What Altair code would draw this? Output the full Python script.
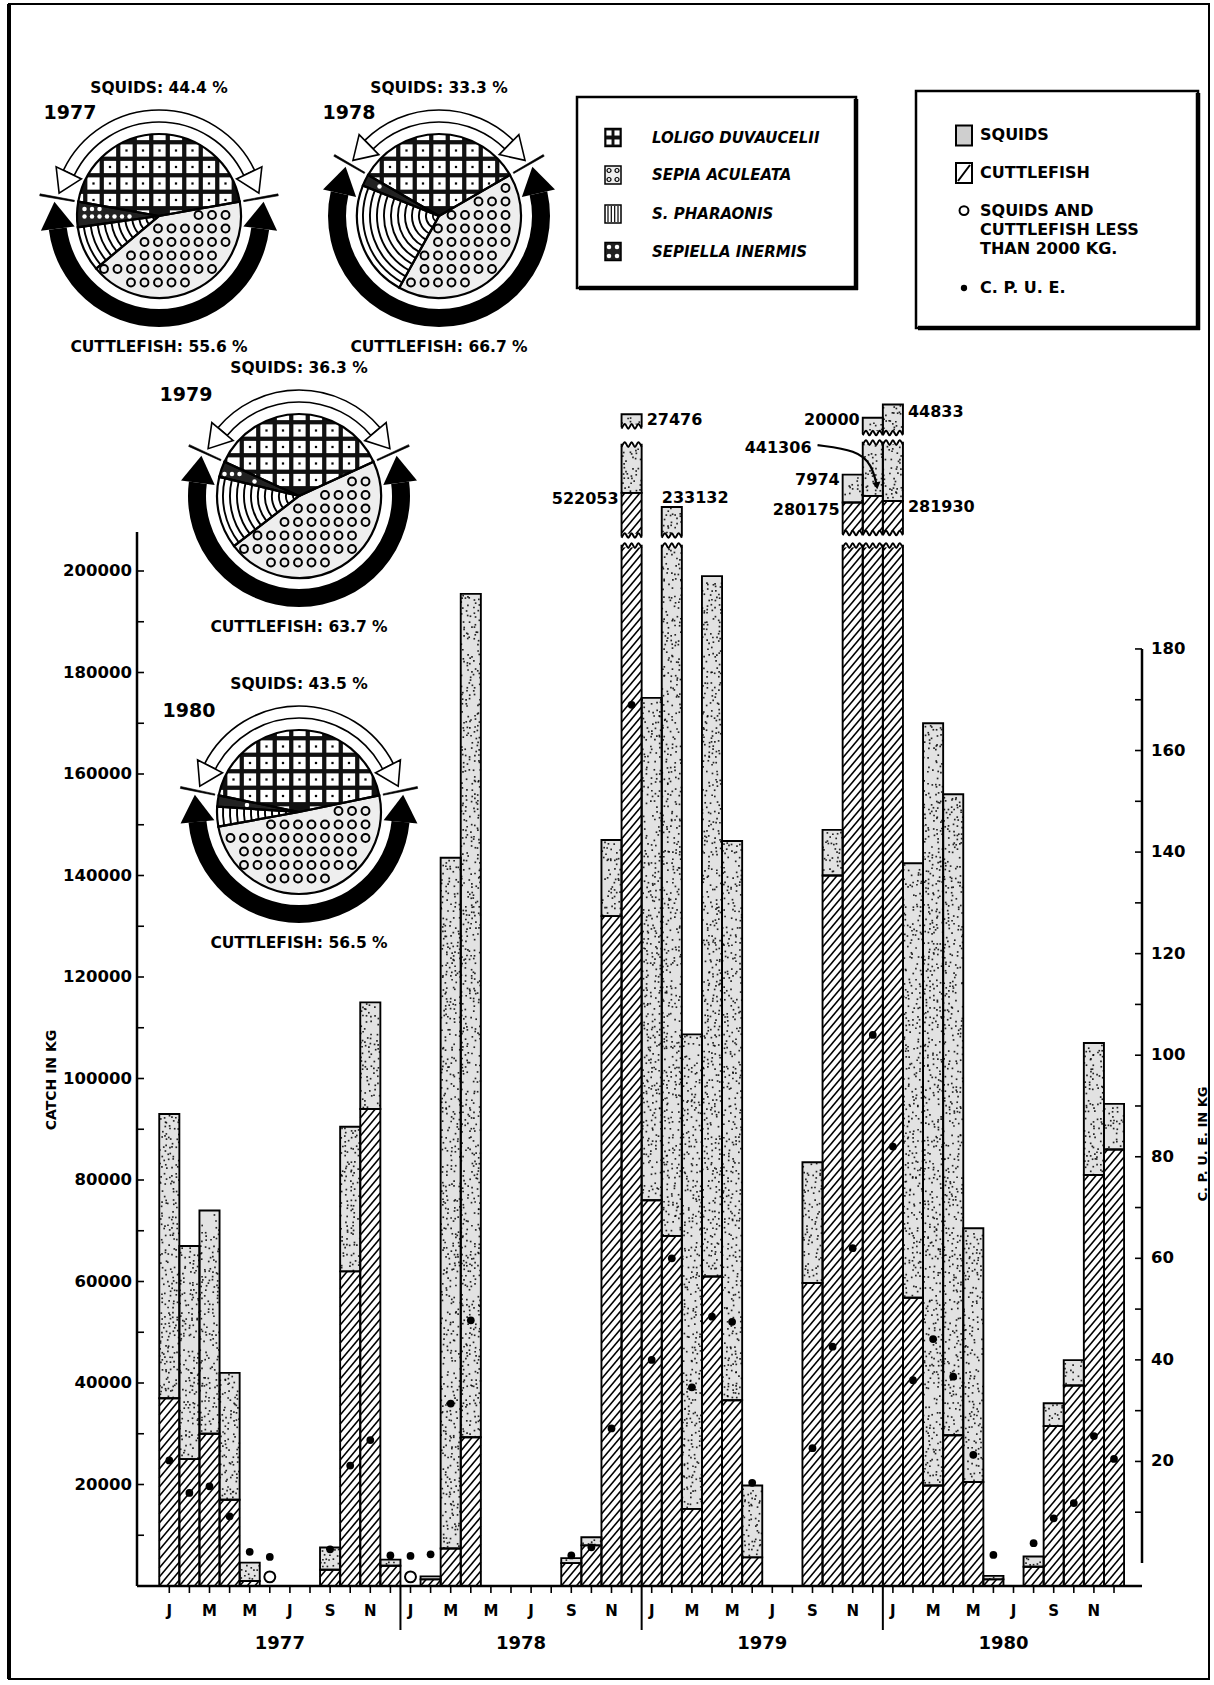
import altair as alt
import pandas as pd

# ============================ DATA ============================
MONTH_LETTERS = ["J", "F", "M", "A", "M", "J", "J", "A", "S", "O", "N", "D"]
YEARS = [1977, 1978, 1979, 1980]

# monthly catch in kg, January 1977 ... December 1980 (None = no catch)
CUTTLEFISH = [
    37000, 25000, 30000, 17000, 1000, None, None, None, 3200, 62000, 94000, 4000,
    None, 1300, 7400, 29300, None, None, None, None, 4500, 8000, 132000, 522053,
    76000, 69000, 15200, 61000, 36600, 5650, None, None, 59700, 140000, 280175, 441306,
    281930, 56800, 19800, 29700, 20500, 1300, None, 3800, 31500, 39500, 81000, 86000,
]
SQUIDS = [
    56000, 42000, 44000, 25000, 3600, None, None, None, 4400, 28500, 21000, 1200,
    None, 600, 136100, 166200, None, None, None, None, 1000, 1600, 15000, 27476,
    99000, 233132, 93500, 138000, 110200, 14150, None, None, 23800, 9000, 7974, 20000,
    44833, 85600, 150200, 126300, 50000, 700, None, 2000, 4500, 5000, 26000, 9000,
]
# catch per unit effort (kg)
CPUE = [
    20.2, 13.8, 15.1, 9.2, 2.2, 1.2, None, None, 2.7, 19.2, 24.2, 1.5,
    1.4, 1.7, 31.4, 47.8, None, None, None, None, 1.5, 3.1, 26.5, 169,
    40, 60, 34.6, 48.5, 47.5, 15.8, None, None, 22.6, 42.6, 62, 104,
    82, 36, 44.1, 36.7, 21.3, 1.6, None, 3.9, 8.8, 11.8, 25, 20.5,
]
LESS_THAN_2000 = [5, 12]          # months with squids + cuttlefish < 2000 kg
LESS_THAN_2000_KG = 1800          # nominal height of those open circles

CATCH_TICKS = list(range(20000, 200001, 20000))
CATCH_MINOR = list(range(0, 200001, 10000))
CPUE_TICKS = list(range(20, 181, 20))
CPUE_MINOR = list(range(10, 181, 10))

PIE_YEARS = [1977, 1978, 1979, 1980]
SPECIES = ["LOLIGO DUVAUCELII", "SEPIA ACULEATA", "S. PHARAONIS", "SEPIELLA INERMIS"]
LOLIGO = [44.4, 33.3, 36.3, 43.5]
SEPIA_ACULEATA = [41.7, 41.4, 46.4, 50.4]
S_PHARAONIS = [8.9, 23.0, 14.2, 3.9]
SEPIELLA = [5.0, 2.3, 3.1, 2.2]
SQUID_PCT = [44.4, 33.3, 36.3, 43.5]
CUTTLE_PCT = [55.6, 66.7, 63.7, 56.5]

SERIES_LEGEND = ["SQUIDS", "CUTTLEFISH", "SQUIDS AND", "CUTTLEFISH LESS", "THAN 2000 KG.", "C. P. U. E."]

# ============================ LAYOUT ==========================
FONT = "DejaVu Sans"
STIPPLE = "#e2e2e2"
PAGE_W, PAGE_H = 1214, 1685
PLOT_L, PLOT_R, BASE_Y = 137, 1142, 1586
W, H = PLOT_R - PLOT_L, BASE_Y
X_FIRST, X_STEP = 169.3, 20.1
PX_10K = 50.75
CPUE_ZERO_Y, PX_CPUE = 1563.0, 5.078
LEFT_AXIS_TOP_KG = 207700

XS = alt.Scale(domain=[(PLOT_L - X_FIRST) / X_STEP, (PLOT_R - X_FIRST) / X_STEP], nice=False, zero=False)
YLS = alt.Scale(domain=[0, BASE_Y / PX_10K * 10000], nice=False, zero=False)
YRS = alt.Scale(domain=[(CPUE_ZERO_Y - BASE_Y) / PX_CPUE, CPUE_ZERO_Y / PX_CPUE], nice=False, zero=False)


def vx(x):
    return x - PLOT_L


BREAK_TOP = 205000
BROKEN_PIECES = {
    23: [("c", 207000, 215400), ("s", 215400, 224900), ("s", 228500, 230900)],
    25: [("s", 207000, 212600)],
    34: [("c", 207500, 213500), ("s", 213500, 219000)],
    35: [("c", 207500, 214800), ("s", 214800, 225300), ("s", 227200, 230200)],
    36: [("c", 207500, 213800), ("s", 213800, 225300), ("s", 227200, 232800)],
}
BREAK_LABEL_POS = [
    (23, "c", "left", 214100), (23, "s", "right", 229800), (25, "s", "above", 214400),
    (34, "c", "left", 212000), (34, "s", "left", 217900), (35, "c", "far", 224300),
    (35, "s", "left", 229750), (36, "c", "right", 212700), (36, "s", "right", 231300),
]
ARROW_441306 = [(32.25, 224800), (34.2, 223800), (34.95, 221000), (35.2, 216800)]

PIE_CENTERS = {1977: (159, 216), 1978: (439, 216), 1979: (299, 496), 1980: (299, 812)}
PIE_YEAR_OFFSET = {1977: (-89, -103), 1978: (-90, -103), 1979: (-113, -101), 1980: (-110, -101)}
R = 82
PIE_FILL = {SPECIES[0]: "#111111", SPECIES[1]: "#eeeeee", SPECIES[2]: "#ffffff", SPECIES[3]: "#222222"}
GAP_W, GAP_B = 0.27, 0.30
HEAD_PATH = "M -1 0 L 0 -1.6 L 1 0 Z"
WAVE_KG = 450

# ============================ BARS ============================
seg_rows = []
for m in range(48):
    c = CUTTLEFISH[m] or 0
    s = SQUIDS[m] or 0
    if c + s == 0:
        continue
    if c + s > BREAK_TOP:
        cd = min(c, BREAK_TOP)
        sd = BREAK_TOP - cd
    else:
        cd, sd = c, s
    if cd > 0:
        seg_rows.append(dict(m=m, lo=0, hi=cd, kind="c"))
    if sd > 0:
        seg_rows.append(dict(m=m, lo=cd, hi=cd + sd, kind="s"))
    for kind, lo, hi in BROKEN_PIECES.get(m, []):
        seg_rows.append(dict(m=m, lo=lo, hi=hi, kind=kind))
seg_df = pd.DataFrame(seg_rows)

# torn edges of the broken bars
edge_rows = []
for m, pieces in BROKEN_PIECES.items():
    edge_rows.append(dict(m=m, e=BREAK_TOP))
    edge_rows.append(dict(m=m, e=pieces[0][1]))
    for a, b in zip(pieces[:-1], pieces[1:]):
        if b[1] > a[2]:
            edge_rows.append(dict(m=m, e=a[2]))
            edge_rows.append(dict(m=m, e=b[1]))
edge_df = pd.DataFrame(edge_rows)
edge_df["eid"] = range(len(edge_df))

XM = dict(scale=XS, axis=None)
YL = dict(scale=YLS, axis=None)
YR = dict(scale=YRS, axis=None)

bar_base = alt.Chart(seg_df).transform_calculate(x0="datum.m - 0.5", x1="datum.m + 0.5")
bars_fill = bar_base.mark_rect(strokeWidth=0).encode(
    x=alt.X("x0:Q", **XM), x2="x1:Q", y=alt.Y("lo:Q", **YL), y2="hi:Q",
    fill=alt.Fill("kind:N", scale=alt.Scale(domain=["c", "s"], range=["white", STIPPLE]), legend=None),
)
bars_outline = bar_base.mark_rect(fillOpacity=0, stroke="black", strokeWidth=1.9).encode(
    x=alt.X("x0:Q", **XM), x2="x1:Q", y=alt.Y("lo:Q", **YL), y2="hi:Q")

edge_white = (alt.Chart(edge_df).transform_calculate(x0="datum.m - 0.45", x1="datum.m + 0.45")
              .mark_rule(color="white", strokeWidth=3.5)
              .encode(x=alt.X("x0:Q", **XM), x2="x1:Q", y=alt.Y("e:Q", **YL)))
edge_wave = (alt.Chart(edge_df)
             .transform_calculate(ws="sequence(0, 7)").transform_flatten(["ws"])
             .transform_calculate(wx="datum.m - 0.5 + datum.ws / 6",
                                  wy=f"datum.e + (datum.ws % 2 == 0 ? -{WAVE_KG} : {WAVE_KG})")
             .mark_line(color="black", strokeWidth=2, interpolate="cardinal")
             .encode(x=alt.X("wx:Q", **XM), y=alt.Y("wy:Q", **YL), detail="eid:N", order="ws:Q"))

STEP = 9 / PX_10K * 10000
RISE = 24 / PX_10K * 10000
hatch = (
    alt.Chart(seg_df)
    .transform_filter("datum.kind == 'c'")
    .transform_calculate(ks=f"sequence(0, ceil((datum.hi - datum.lo + {RISE}) / {STEP}) + 3)")
    .transform_flatten(["ks"])
    .transform_calculate(yl=f"floor((datum.lo - {RISE}) / {STEP}) * {STEP} + datum.ks * {STEP}")
    .transform_calculate(t0=f"max(0, (datum.lo - datum.yl) / {RISE})",
                         t1=f"min(1, (datum.hi - datum.yl) / {RISE})")
    .transform_filter("datum.t1 - datum.t0 > 0.04")
    .transform_calculate(xa="datum.m - 0.5 + datum.t0", xb="datum.m - 0.5 + datum.t1",
                         ya=f"datum.yl + datum.t0 * {RISE}", yb=f"datum.yl + datum.t1 * {RISE}")
    .mark_rule(color="black", strokeWidth=1.6)
    .encode(x=alt.X("xa:Q", **XM), x2="xb:Q", y=alt.Y("ya:Q", **YL), y2="yb:Q")
)

# stipple texture of the squid parts (deterministic hash jitter)
SROW = 4 / PX_10K * 10000
stipple = (
    alt.Chart(seg_df)
    .transform_filter("datum.kind == 's'")
    .transform_calculate(rw=f"sequence(0, ceil((datum.hi - datum.lo) / {SROW}))")
    .transform_flatten(["rw"])
    .transform_calculate(cl="sequence(0, 5)")
    .transform_flatten(["cl"])
    .transform_calculate(
        h1="abs(sin(datum.m * 12.9898 + datum.rw * 78.233 + datum.cl * 37.719 + datum.lo * 0.00013) * 43758.5453) % 1",
        h2="abs(sin(datum.m * 93.989 + datum.rw * 67.345 + datum.cl * 11.135 + datum.lo * 0.00029) * 24634.6345) % 1",
        h3="abs(sin(datum.m * 41.113 + datum.rw * 19.771 + datum.cl * 63.917 + datum.lo * 0.00041) * 35797.1231) % 1",
    )
    .transform_filter("datum.h3 < 0.6")
    .transform_calculate(sx="datum.m - 0.5 + (datum.cl + 0.1 + 0.8 * datum.h1) / 5",
                         sy=f"datum.lo + (datum.rw + datum.h2) * {SROW}")
    .transform_filter("datum.sy < datum.hi - 250")
    .mark_square(size=2.8, color="black", opacity=0.85)
    .encode(x=alt.X("sx:Q", **XM), y=alt.Y("sy:Q", **YL))
)

oc_df = pd.DataFrame({"m": LESS_THAN_2000, "v": [LESS_THAN_2000_KG] * len(LESS_THAN_2000)})
open_circles = alt.Chart(oc_df).mark_point(shape="circle", size=120, filled=True, fill="white",
                                            stroke="black", strokeWidth=2, opacity=1).encode(
    x=alt.X("m:Q", **XM), y=alt.Y("v:Q", **YL))

# ---------------- axes drawn from the tick lists ----------------
mon_df = pd.DataFrame({"m": list(range(48)), "lab": [MONTH_LETTERS[i % 12] if i % 2 == 0 else "" for i in range(48)]})
baseline = alt.Chart(pd.DataFrame({"k": [0]})).mark_rule(color="black", strokeWidth=2.5).encode(
    x=alt.value(0), x2=alt.value(W), y=alt.value(BASE_Y))
x_ticks = alt.Chart(mon_df).mark_rule(color="black", strokeWidth=1.6).encode(
    x=alt.X("m:Q", **XM), y=alt.value(BASE_Y), y2=alt.value(BASE_Y + 7))
x_labels = alt.Chart(mon_df).transform_filter("datum.lab != ''").mark_text(
    font=FONT, fontSize=15, fontWeight="bold", color="black", baseline="middle").encode(
    x=alt.X("m:Q", **XM), y=alt.value(BASE_Y + 25), text="lab:N")

div_df = pd.DataFrame({"xb": [12 * k - 0.5 for k in range(1, len(YEARS))]})
dividers = alt.Chart(div_df).mark_rule(color="black", strokeWidth=2).encode(
    x=alt.X("xb:Q", **XM), y=alt.value(BASE_Y), y2=alt.value(BASE_Y + 44))

yr_df = pd.DataFrame({"year": [str(y) for y in YEARS], "xc": [12 * k + 5.5 for k in range(len(YEARS))]})
year_text = alt.Chart(yr_df).mark_text(font=FONT, fontSize=18, fontWeight="bold", color="black",
                                       baseline="middle").encode(
    x=alt.X("xc:Q", **XM), y=alt.value(BASE_Y + 58), text="year:N")

laxis_line = alt.Chart(pd.DataFrame({"lo": [0], "hi": [LEFT_AXIS_TOP_KG]})).mark_rule(
    color="black", strokeWidth=2.5).encode(x=alt.value(0), y=alt.Y("lo:Q", **YL), y2="hi:Q")
laxis_ticks = alt.Chart(pd.DataFrame({"v": CATCH_MINOR})).mark_rule(color="black", strokeWidth=1.6).encode(
    x=alt.value(0), x2=alt.value(7), y=alt.Y("v:Q", **YL))
laxis_labels = alt.Chart(pd.DataFrame({"v": CATCH_TICKS, "t": [str(v) for v in CATCH_TICKS]})).mark_text(
    font=FONT, fontSize=16.5, fontWeight="bold", color="black", align="right", baseline="middle", dx=-5).encode(
    x=alt.value(0), y=alt.Y("v:Q", **YL), text="t:N")

# labels of the broken bars
bl_rows = []
for m, which, side, ykg in BREAK_LABEL_POS:
    val = CUTTLEFISH[m] if which == "c" else SQUIDS[m]
    xpos = {"left": m - 0.5, "far": m - 2.9, "right": m + 0.5, "above": m - 0.5}[side]
    bl_rows.append(dict(xm=xpos, ykg=ykg, txt=str(val), side=side))
bl_df = pd.DataFrame(bl_rows)
BL_STYLE = dict(font=FONT, fontSize=16, fontWeight="bold", color="black", baseline="middle")


def break_labels(expr, align, dx):
    return alt.Chart(bl_df).transform_filter(expr).mark_text(align=align, dx=dx, **BL_STYLE).encode(
        x=alt.X("xm:Q", **XM), y=alt.Y("ykg:Q", **YL), text="txt:N")


lab_left = break_labels("datum.side == 'left' || datum.side == 'far'", "right", -3)
lab_right = break_labels("datum.side == 'right'", "left", 5)
lab_above = break_labels("datum.side == 'above'", "left", 0)

arr_df = pd.DataFrame({"xm": [p[0] for p in ARROW_441306], "ykg": [p[1] for p in ARROW_441306],
                       "o": list(range(len(ARROW_441306)))})
arrow_line = alt.Chart(arr_df).mark_line(color="black", strokeWidth=2.2, interpolate="basis").encode(
    x=alt.X("xm:Q", **XM), y=alt.Y("ykg:Q", **YL), order="o:Q")
arrow_head = alt.Chart(arr_df.tail(1)).mark_point(shape="triangle-up", size=70, filled=True, color="black",
                                                   angle=172, opacity=1).encode(
    x=alt.X("xm:Q", **XM), y=alt.Y("ykg:Q", **YL))

# ============================ TEXT HELPERS ============================


def text_layer(rows, **kw):
    d = pd.DataFrame(rows)
    d["vx"] = d["X"] - PLOT_L
    props = dict(font=FONT, fontWeight="bold", color="black", baseline="middle", align="center")
    props.update(kw)
    return alt.Chart(d).mark_text(**props).encode(
        x=alt.X("vx:Q", scale=None), y=alt.Y("Y:Q", scale=None), text="txt:N")


def rect_layer(rows, **kw):
    d = pd.DataFrame(rows)
    d["vx0"] = d["X0"] - PLOT_L
    d["vx1"] = d["X1"] - PLOT_L
    return alt.Chart(d).mark_rect(**kw).encode(
        x=alt.X("vx0:Q", scale=None), x2="vx1:Q", y=alt.Y("Y0:Q", scale=None), y2="Y1:Q")


def point_layer(rows, **kw):
    d = pd.DataFrame(rows)
    d["vx"] = d["X"] - PLOT_L
    return alt.Chart(d).mark_point(**kw).encode(x=alt.X("vx:Q", scale=None), y=alt.Y("Y:Q", scale=None))


def rule_layer(rows, **kw):
    d = pd.DataFrame(rows)
    d["vx0"] = d["X0"] - PLOT_L
    d["vx1"] = d["X1"] - PLOT_L
    return alt.Chart(d).mark_rule(**kw).encode(
        x=alt.X("vx0:Q", scale=None), x2="vx1:Q", y=alt.Y("Y0:Q", scale=None), y2="Y1:Q")


frame = rect_layer([dict(X0=9, X1=1209, Y0=4, Y1=1679)], fillOpacity=0, stroke="black", strokeWidth=2)
frame_left = rule_layer([dict(X0=9, X1=9, Y0=4, Y1=1679)], color="black", strokeWidth=4)

axis_titles = [
    text_layer([dict(X=52, Y=1080, txt="CATCH IN KG")], fontSize=14, angle=270),
    text_layer([dict(X=1203, Y=1144, txt="C. P. U. E. IN KG")], fontSize=13, angle=270),
]

# ============================ PIES ============================
SPECIES_PCT = [LOLIGO, SEPIA_ACULEATA, S_PHARAONIS, SEPIELLA]
pie_rows = []
for yi, yr in enumerate(PIE_YEARS):
    cx, cy = PIE_CENTERS[yr]
    for si, sp in enumerate(SPECIES):
        pie_rows.append(dict(year=yr, species=sp, order=si, pct=SPECIES_PCT[si][yi], sq=SQUID_PCT[yi],
                             cx=vx(cx), cy=cy, fill=PIE_FILL[sp]))
pie_df = pd.DataFrame(pie_rows)
CENTER = dict(x=alt.X("cx:Q", scale=None), y=alt.Y("cy:Q", scale=None))


def pie_base():
    return (alt.Chart(pie_df)
            .transform_window(cum="sum(pct)", sort=[alt.SortField("order")], groupby=["year"], frame=[None, 0])
            .transform_calculate(t0="(datum.cum - datum.pct) / 100 * 2 * PI - datum.sq / 100 * PI")
            .transform_calculate(t1="datum.cum / 100 * 2 * PI - datum.sq / 100 * PI"))


def slices(expr, **kw):
    return pie_base().transform_filter(expr).mark_arc(**kw).encode(
        theta=alt.Theta("t0:Q", scale=None, stack=False), theta2="t1:Q",
        fill=alt.Fill("fill:N", scale=None), **CENTER)


def pattern(order, pitch, r_max, edge, ext, **kw):
    ch = (pie_base().transform_filter(f"datum.order == {order}")
          .transform_calculate(gx=f"sequence({-R}, {R + 0.01}, {pitch})").transform_flatten(["gx"])
          .transform_calculate(gy=f"sequence({-R}, {R + 0.01}, {pitch})").transform_flatten(["gy"])
          .transform_calculate(rr="sqrt(datum.gx * datum.gx + datum.gy * datum.gy)",
                               aa="atan2(datum.gx, -datum.gy)")
          .transform_calculate(a2=f"(datum.t0 - {ext}) + (((datum.aa - datum.t0 + {ext}) % (2 * PI)) + 2 * PI) % (2 * PI)")
          .transform_filter(
              f"datum.rr <= {r_max} && datum.a2 <= datum.t1 + {ext} && "
              f"(datum.a2 - datum.t0 >= PI / 2 || datum.rr * sin(datum.a2 - datum.t0) >= {edge}) && "
              f"(datum.t1 - datum.a2 >= PI / 2 || datum.rr * sin(datum.t1 - datum.a2) >= {edge})")
          .transform_calculate(px="datum.cx + datum.gx", py="datum.cy + datum.gy"))
    return ch.mark_point(**kw).encode(x=alt.X("px:Q", scale=None), y=alt.Y("py:Q", scale=None))


loligo_slice = slices("datum.order == 0", outerRadius=R, strokeWidth=0)
loligo_cells = pattern(0, 16.5, R + 4, -100, 0.35, shape="square", size=150, filled=True, color="white",
                       strokeWidth=0, opacity=1)
loligo_specks = pattern(0, 16.5, R - 3, 3, 0, shape="square", size=5, filled=True, color="black",
                        strokeWidth=0, opacity=1)
other_slices = slices("datum.order > 0", outerRadius=R, strokeWidth=0)
aculeata_rings = pattern(1, 13.5, R - 5, 5, 0, shape="circle", size=62, filled=False, color="black",
                         strokeWidth=2, opacity=1)
sepiella_dots = pattern(3, 7.5, R - 4, 3.5, 0, shape="circle", size=20, filled=True, color="white",
                        strokeWidth=0, opacity=1)
pharaonis_arcs = (pie_base().transform_filter("datum.order == 2")
                  .transform_calculate(rr=f"sequence(7, {R}, 7)").transform_flatten(["rr"])
                  .transform_calculate(rr2="datum.rr - 1.9")
                  .mark_arc(fill="black", strokeWidth=0)
                  .encode(theta=alt.Theta("t0:Q", scale=None, stack=False), theta2="t1:Q",
                          radius=alt.Radius("rr:Q", scale=None), radius2="rr2:Q", **CENTER))

pyd = pd.DataFrame({"year": PIE_YEARS, "sq": SQUID_PCT, "cp": CUTTLE_PCT,
                    "cx": [vx(PIE_CENTERS[y][0]) for y in PIE_YEARS],
                    "cy": [PIE_CENTERS[y][1] for y in PIE_YEARS]})


def band(a0, a1, **kw):
    return alt.Chart(pyd).transform_calculate(a0=a0, a1=a1).mark_arc(**kw).encode(
        theta=alt.Theta("a0:Q", scale=None, stack=False), theta2="a1:Q", **CENTER)


cover_ring = band("0", "2 * PI", innerRadius=R + 0.5, outerRadius=R + 11, fill="white", strokeWidth=0)
pie_outline = pie_base().mark_arc(outerRadius=R, fillOpacity=0, stroke="black", strokeWidth=2.2).encode(
    theta=alt.Theta("t0:Q", scale=None, stack=False), theta2="t1:Q", **CENTER)
white_band = band(f"-(datum.sq / 100 * PI - {GAP_W})", f"datum.sq / 100 * PI - {GAP_W}",
                  innerRadius=94, outerRadius=106, fill="white", stroke="black", strokeWidth=1.6)
black_band = band(f"datum.sq / 100 * PI + {GAP_B}", f"2 * PI - datum.sq / 100 * PI - {GAP_B}",
                  innerRadius=93, outerRadius=111, fill="black", strokeWidth=0)

ends_rows = []
for yi, yr in enumerate(PIE_YEARS):
    for side in (-1, 1):
        ends_rows.append(dict(year=yr, sq=SQUID_PCT[yi], cx=vx(PIE_CENTERS[yr][0]), cy=PIE_CENTERS[yr][1],
                              side=side))
ends_df = pd.DataFrame(ends_rows)


def heads(t_expr, rm, size, **kw):
    return (alt.Chart(ends_df).transform_calculate(t=t_expr)
            .transform_calculate(hx=f"datum.cx + {rm} * sin(datum.t)", hy=f"datum.cy - {rm} * cos(datum.t)",
                                 ang="(datum.t * 180 / PI + datum.side * 90 + 720) % 360")
            .mark_point(shape=HEAD_PATH, size=size, filled=True, opacity=1, **kw)
            .encode(x=alt.X("hx:Q", scale=None), y=alt.Y("hy:Q", scale=None),
                    angle=alt.Angle("ang:Q", scale=None)))


heads_white = heads(f"datum.side * (datum.sq / 100 * PI - {GAP_W})", 100, 784,
                    fill="white", stroke="black", strokeWidth=1.6)
heads_black = heads(f"PI + datum.side * (PI - datum.sq / 100 * PI - {GAP_B})", 102, 1156,
                    fill="black", strokeWidth=0)
pie_dividers = (alt.Chart(ends_df).transform_calculate(t="datum.side * datum.sq / 100 * PI")
                .transform_calculate(a0="datum.t - 0.008", a1="datum.t + 0.008")
                .mark_arc(innerRadius=86, outerRadius=121, fill="black", stroke="black", strokeWidth=0.6)
                .encode(theta=alt.Theta("a0:Q", scale=None, stack=False), theta2="a1:Q", **CENTER))

pie_text_rows = []
for yi, yr in enumerate(PIE_YEARS):
    cx, cy = PIE_CENTERS[yr]
    pie_text_rows.append(dict(X=cx, Y=cy - 128, txt=f"SQUIDS: {SQUID_PCT[yi]:.1f} %"))
    pie_text_rows.append(dict(X=cx, Y=cy + 131, txt=f"CUTTLEFISH: {CUTTLE_PCT[yi]:.1f} %"))
pie_texts = text_layer(pie_text_rows, fontSize=15.5)
pie_years = text_layer([dict(X=PIE_CENTERS[y][0] + PIE_YEAR_OFFSET[y][0],
                             Y=PIE_CENTERS[y][1] + PIE_YEAR_OFFSET[y][1], txt=str(y))
                        for y in PIE_YEARS], fontSize=19)

# ============================ LEGENDS ============================
SP_ROW_Y = [137.5, 175, 214, 251.5]
SER_ROW_Y = [135.4, 173, 210.6, 230, 249.2, 288]
LEG1_SX, LEG2_SX = 613, 964

legend_boxes = [
    rect_layer([dict(X0=577, X1=856, Y0=97, Y1=288), dict(X0=916, X1=1198, Y0=91, Y1=328)],
               fill="white", stroke="black", strokeWidth=2.5),
    rule_layer([dict(X0=856, X1=856, Y0=99, Y1=290), dict(X0=579, X1=858, Y0=288, Y1=288),
                dict(X0=1198, X1=1198, Y0=93, Y1=330), dict(X0=918, X1=1200, Y0=328, Y1=328)],
               color="black", strokeWidth=4.5),
]
sp_sym = rect_layer([dict(X0=LEG1_SX - 8, X1=LEG1_SX + 8, Y0=y - 9, Y1=y + 9, f=PIE_FILL[sp])
                     for sp, y in zip(SPECIES, SP_ROW_Y)], stroke="black", strokeWidth=1.5).encode(
    fill=alt.Fill("f:N", scale=None))
quad = [(-4, -4.5), (4, -4.5), (-4, 4.5), (4, 4.5)]
sym_loligo = point_layer([dict(X=LEG1_SX + dx, Y=SP_ROW_Y[0] + dy) for dx, dy in quad],
                         shape="square", size=26, filled=True, color="white", strokeWidth=0, opacity=1)
sym_aculeata = point_layer([dict(X=LEG1_SX + dx, Y=SP_ROW_Y[1] + dy) for dx, dy in quad],
                           shape="circle", size=16, filled=False, color="black", strokeWidth=1.2, opacity=1)
sym_pharaonis = rule_layer([dict(X0=LEG1_SX + d, X1=LEG1_SX + d, Y0=SP_ROW_Y[2] - 8, Y1=SP_ROW_Y[2] + 8)
                            for d in (-5, -1.7, 1.7, 5)], color="black", strokeWidth=1.2)
sym_sepiella = point_layer([dict(X=LEG1_SX + dx, Y=SP_ROW_Y[3] + dy) for dx, dy in quad],
                           shape="circle", size=20, filled=True, color="white", strokeWidth=0, opacity=1)
sp_text = text_layer([dict(X=652, Y=y, txt=sp) for sp, y in zip(SPECIES, SP_ROW_Y)],
                     fontSize=15, fontStyle="italic", align="left")

ser_sym = [
    rect_layer([dict(X0=LEG2_SX - 8, X1=LEG2_SX + 8, Y0=SER_ROW_Y[0] - 10, Y1=SER_ROW_Y[0] + 10)],
               fill="#cfcfcf", stroke="black", strokeWidth=2),
    rect_layer([dict(X0=LEG2_SX - 8, X1=LEG2_SX + 8, Y0=SER_ROW_Y[1] - 10, Y1=SER_ROW_Y[1] + 10)],
               fill="white", stroke="black", strokeWidth=2),
    rule_layer([dict(X0=LEG2_SX - 6, X1=LEG2_SX + 6, Y0=SER_ROW_Y[1] + 8, Y1=SER_ROW_Y[1] - 8)],
               color="black", strokeWidth=2),
    point_layer([dict(X=LEG2_SX, Y=SER_ROW_Y[2])], shape="circle", size=80, filled=True, fill="white",
                stroke="black", strokeWidth=2, opacity=1),
    point_layer([dict(X=LEG2_SX, Y=SER_ROW_Y[5])], shape="circle", size=40, filled=True, color="black",
                opacity=1),
]
ser_text = text_layer([dict(X=980, Y=y, txt=t) for t, y in zip(SERIES_LEGEND, SER_ROW_Y)],
                      fontSize=16, align="left")

# ============================ RIGHT (C.P.U.E.) ============================
cp_df = pd.DataFrame({"m": list(range(48)), "cpue": CPUE}).dropna()
dots = alt.Chart(cp_df).mark_circle(size=60, color="black", opacity=1).encode(
    x=alt.X("m:Q", **XM), y=alt.Y("cpue:Q", **YR))
raxis_line = alt.Chart(pd.DataFrame({"lo": [0], "hi": [180]})).mark_rule(color="black", strokeWidth=2.5).encode(
    x=alt.value(W), y=alt.Y("lo:Q", **YR), y2="hi:Q")
raxis_ticks = alt.Chart(pd.DataFrame({"v": CPUE_MINOR})).mark_rule(color="black", strokeWidth=1.6).encode(
    x=alt.value(W - 7), x2=alt.value(W), y=alt.Y("v:Q", **YR))
raxis_labels = alt.Chart(pd.DataFrame({"v": CPUE_TICKS, "t": [str(v) for v in CPUE_TICKS]})).mark_text(
    font=FONT, fontSize=16.5, fontWeight="bold", color="black", align="left", baseline="middle", dx=9).encode(
    x=alt.value(W), y=alt.Y("v:Q", **YR), text="t:N")

left_group = alt.layer(
    frame, frame_left,
    bars_fill, stipple, hatch, bars_outline, edge_white, edge_wave, open_circles, baseline, x_ticks,
    x_labels, dividers, year_text, laxis_line, laxis_ticks, laxis_labels,
    lab_left, lab_right, lab_above, arrow_line, arrow_head, *axis_titles,
    loligo_slice, loligo_cells, loligo_specks, other_slices, aculeata_rings, sepiella_dots, pharaonis_arcs,
    cover_ring, pie_outline, pie_dividers, white_band, black_band, heads_white, heads_black,
    pie_texts, pie_years,
    *legend_boxes, sp_sym, sym_loligo, sym_aculeata, sym_pharaonis, sym_sepiella, sp_text,
    *ser_sym, ser_text,
)
right_group = alt.layer(raxis_ticks, raxis_line, raxis_labels, dots)

chart = (
    alt.layer(left_group, right_group)
    .resolve_scale(y="independent")
    .properties(width=W, height=H, background="white",
                padding={"left": PLOT_L, "top": 0, "right": PAGE_W - PLOT_R, "bottom": PAGE_H - BASE_Y},
                autosize=alt.AutoSizeParams(type="none"))
    .configure_view(stroke=None)
)
chart.save("out.html", embed_options={"renderer": "svg", "actions": False})
